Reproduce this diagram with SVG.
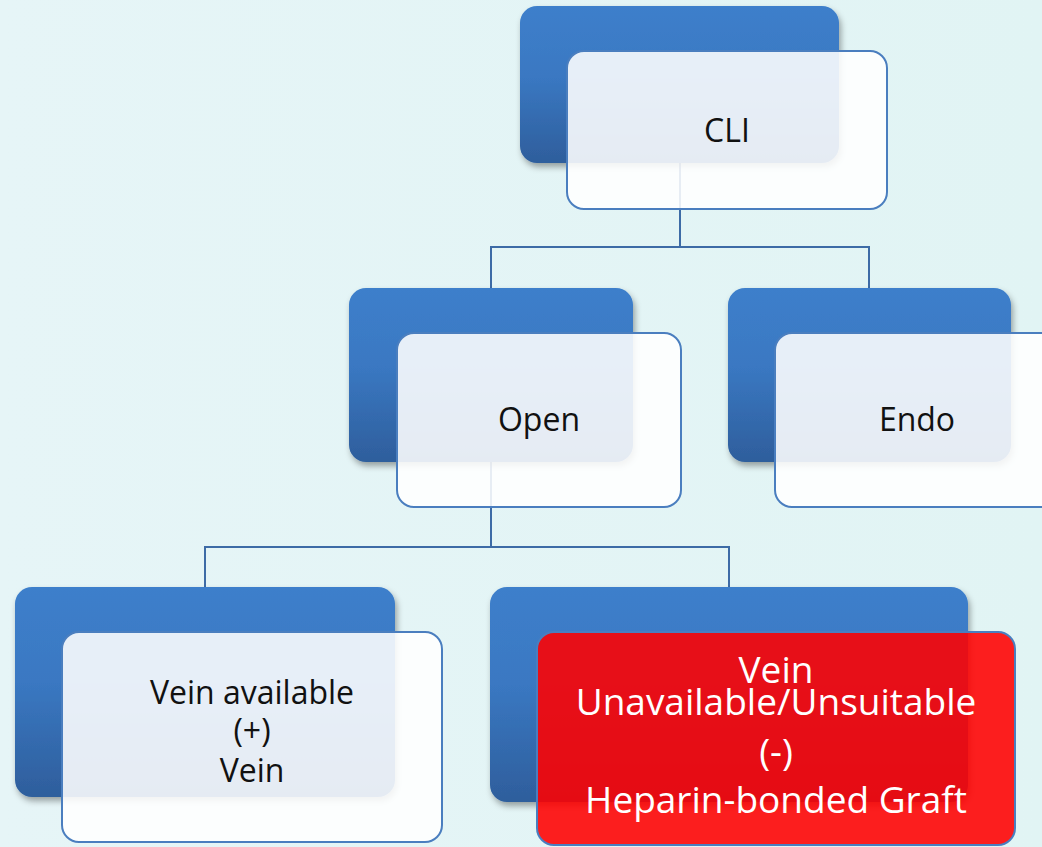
<svg xmlns="http://www.w3.org/2000/svg" width="1042" height="847" viewBox="0 0 1042 847">
  <defs>
    <linearGradient id="bg" x1="0" y1="0" x2="1" y2="0">
      <stop offset="0" stop-color="#E6F5F7"/>
      <stop offset="1" stop-color="#E1F4F4"/>
    </linearGradient>
    <linearGradient id="blue" x1="0" y1="0" x2="0" y2="1">
      <stop offset="0" stop-color="#3D7FCB"/>
      <stop offset="0.45" stop-color="#3A78C2"/>
      <stop offset="1" stop-color="#2E5E9C"/>
    </linearGradient>
    <filter id="shadow" x="-10%" y="-10%" width="120%" height="130%">
      <feDropShadow dx="2" dy="4" stdDeviation="3" flood-color="#000" flood-opacity="0.35"/>
    </filter>
  </defs>
  <style>
    .back { fill: url(#blue); filter: url(#shadow); }
    .card { fill: #FFFFFF; fill-opacity: 0.88; stroke: #4A7EBF; stroke-width: 2; }
    .red { fill: #FF0000; fill-opacity: 0.88; stroke: #4A7EBF; stroke-width: 2; }
    .lbl { font-family: "Open Sans", "Noto Sans", sans-serif; font-size: 32px; fill: #111111; text-anchor: middle; }
    .wlbl { font-family: "Open Sans", "Noto Sans", sans-serif; font-size: 37px; fill: #FFFFFF; text-anchor: middle; }
    .conn { fill: none; stroke: #3D6BA6; stroke-width: 2; }
  </style>
  <rect x="0" y="0" width="1042" height="847" fill="url(#bg)"/>

  <g id="connectors">
    <polyline class="conn" points="680,163 680,247"/>
    <polyline class="conn" points="491,288 491,247 869,247 869,288"/>
    <polyline class="conn" points="491,462 491,547"/>
    <polyline class="conn" points="205,587 205,547 729,547 729,587"/>
  </g>

  <g id="node-cli">
    <rect class="back" x="520" y="6" width="319" height="157" rx="17"/>
    <rect class="card" x="567" y="51" width="320" height="158" rx="17"/>
    <text class="lbl" x="727" y="142">CLI</text>
  </g>

  <g id="node-open">
    <rect class="back" x="349" y="288" width="284" height="174" rx="17"/>
    <rect class="card" x="397" y="333" width="284" height="174" rx="17"/>
    <text class="lbl" x="539" y="431">Open</text>
  </g>

  <g id="node-endo">
    <rect class="back" x="728" y="288" width="283" height="174" rx="17"/>
    <rect class="card" x="775" y="333" width="284" height="174" rx="17"/>
    <text class="lbl" x="917" y="431">Endo</text>
  </g>

  <g id="node-vein-available">
    <rect class="back" x="15" y="587" width="380" height="210" rx="17"/>
    <rect class="card" x="62" y="632" width="380" height="210" rx="17"/>
    <text class="lbl" x="252" y="704">Vein available</text>
    <text class="lbl" x="252" y="742">(+)</text>
    <text class="lbl" x="252" y="782">Vein</text>
  </g>

  <g id="node-vein-unavailable">
    <rect class="back" x="490" y="587" width="478" height="215" rx="17"/>
    <rect class="red" x="537" y="632" width="478" height="213" rx="17"/>
    <text class="wlbl" x="776" y="683">Vein</text>
    <text class="wlbl" x="776" y="715">Unavailable/Unsuitable</text>
    <text class="wlbl" x="776" y="765">(-)</text>
    <text class="wlbl" x="776" y="813">Heparin-bonded Graft</text>
  </g>
</svg>
